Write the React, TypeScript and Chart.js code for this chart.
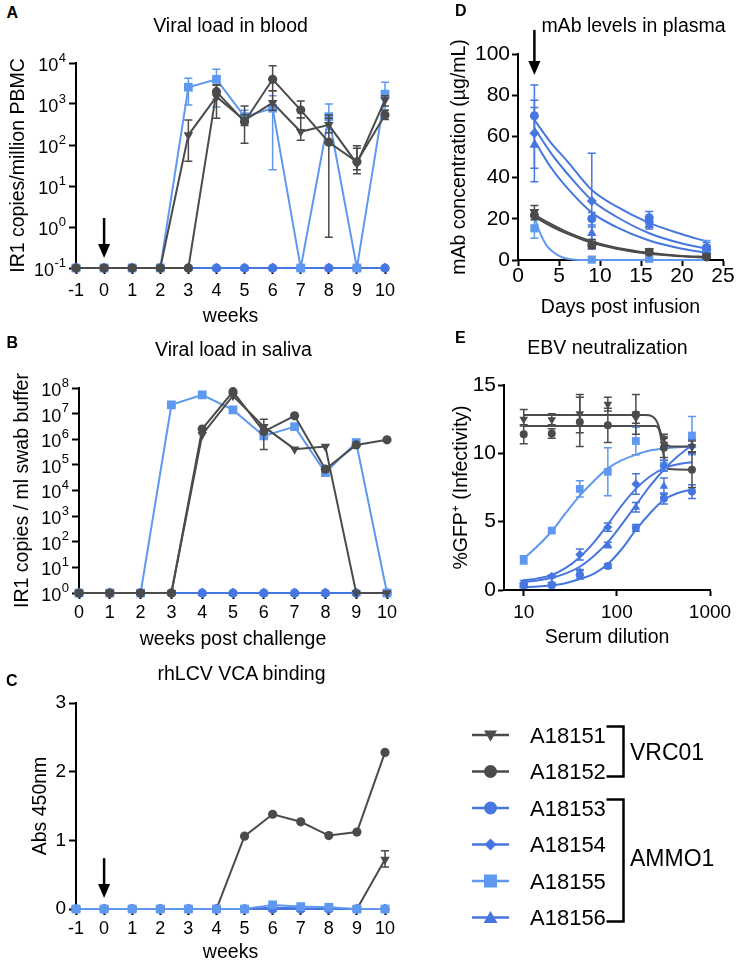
import React, { useEffect, useRef } from 'react';
import { Chart, registerables } from 'chart.js';

Chart.register(...registerables);

const FONT = '"Liberation Sans", Arial, Helvetica, sans-serif';
const DARK = '#4b4b4b';
const BLUE = '#4676df';
const LIGHT_BLUE = '#5f98ef';

// ---------- series ----------
const seriesNames = ['A18151', 'A18152', 'A18153', 'A18154', 'A18155', 'A18156'];
const groupNames = ['VRC01', 'AMMO1'];

// ---------- Panel A: viral load in blood ----------
const bloodWeeks = [-1, 0, 1, 2, 3, 4, 5, 6, 7, 8, 9, 10];
const blood51 = [0.1, 0.1, 0.1, 0.1, 175, 1500, 400, 1070, 210, 310, 35, 1260];
const blood52 = [0.1, 0.1, 0.1, 0.1, 0.1, 2000, 370, 4000, 710, 117, 39, 540];
const blood53 = [0.1, 0.1, 0.1, 0.1, 0.1, 0.1, 0.1, 0.1, 0.1, 0.1, 0.1, 0.1];
const blood54 = [0.1, 0.1, 0.1, 0.1, 0.1, 0.1, 0.1, 0.1, 0.1, 0.1, 0.1, 0.1];
const blood55 = [0.1, 0.1, 0.1, 0.1, 2570, 4000, 490, 790, 0.1, 490, 0.1, 1740];
const blood56 = [0.1, 0.1, 0.1, 0.1, 0.1, 0.1, 0.1, 0.1, 0.1, 0.1, 0.1, 0.1];
const blood51Err = [null, null, null, null, [40, 410], [450, 2900], [300, 550], [700, 2100], [130, 465], [200, 450], [25, 83], [900, 1600]];
const blood52Err = [null, null, null, null, null, [1300, 2900], [110, 890], [2100, 8600], [465, 1180], [0.56, 540], [20, 96], [420, 700]];
const blood55Err = [null, null, null, null, [950, 4260], [850, 7000], [350, 700], [25, 1600], null, [240, 1000], null, [700, 3400]];
const bloodTickValues = [0.1, 1, 10, 100, 1000, 10000];
const bloodTickExponents = ['-1', '0', '1', '2', '3', '4'];
const bloodArrow = { x: 0, top: 1.66, tip: 0.175 };

// ---------- Panel B: viral load in saliva ----------
const salivaWeeks = [0, 1, 2, 3, 4, 5, 6, 7, 8, 9, 10];
const saliva51 = [1, 1, 1, 1, 1.5e6, 5e7, 3.1e6, 4.1e5, 5.2e5, 1, 1];
const saliva52 = [1, 1, 1, 1, 2.5e6, 7.2e7, 2e6, 8.2e6, 6.8e4, 6e5, 9.5e5];
const saliva53 = [1, 1, 1, 1, 1, 1, 1, 1, 1, 1, 1];
const saliva54 = [1, 1, 1, 1, 1, 1, 1, 1, 1, 1, 1];
const saliva55 = [1, 1, 1, 2.2e7, 5.4e7, 1.4e7, 1.35e6, 3.1e6, 5e4, 7.4e5, 1];
const saliva56 = [1, 1, 1, 1, 1, 1, 1, 1, 1, 1, 1];
const saliva52Err = [null, null, null, null, null, null, [4e5, 6e6], null, null, null, null];
const salivaTickValues = [1, 10, 100, 1e3, 1e4, 1e5, 1e6, 1e7, 1e8];
const salivaTickExponents = ['0', '1', '2', '3', '4', '5', '6', '7', '8'];

// ---------- Panel C: rhLCV VCA binding ----------
const vcaWeeks = [-1, 0, 1, 2, 3, 4, 5, 6, 7, 8, 9, 10];
const vca51 = [0, 0, 0, 0, 0, 0, 0, 0, 0, 0, 0, 0.72];
const vca52 = [0, 0, 0, 0, 0, 0, 1.06, 1.38, 1.27, 1.07, 1.12, 2.28];
const vca53 = [0, 0, 0, 0, 0, 0, 0, 0, 0, 0, 0, 0];
const vca54 = [0, 0, 0, 0, 0, 0, 0, 0.02, 0.01, 0, 0, 0];
const vca55 = [0, 0, 0, 0, 0, 0, 0, 0.06, 0.035, 0.025, 0, 0];
const vca56 = [0, 0, 0, 0, 0, 0, 0, 0, 0, 0, 0, 0];
const vca51Err = [null, null, null, null, null, null, null, null, null, null, null, [0.61, 0.85]];
const vcaArrow = { x: 0, top: 0.74, tip: 0.16 };

// ---------- Panel D: mAb levels in plasma ----------
const plasmaDays = [2, 9, 16, 23];
const plasma51 = [23.4, 8, 4.2, 2];
const plasma52 = [21.8, 7.2, 3.8, 1.5];
const plasma53 = [70, 20, 20.5, 6];
const plasma54 = [61.5, 28.6, 18.5, 5];
const plasma55 = [15.4, 0.2, 0.6, 5];
const plasma56 = [56, 13, 17, 3.5];
const plasma51Err = [[21, 26.5], [6, 10], [3, 5.5], [1, 3]];
const plasma52Err = [[19.5, 24], [5.5, 9], [3, 4.6], [1, 2]];
const plasma53Err = [[55, 85], [17, 23], [17.5, 23.5], [3.5, 8.5]];
const plasma54Err = [[44.5, 77.5], [5.5, 51.8], [16, 21], [3, 7]];
const plasma55Err = [[10.5, 21], null, null, [3, 9.5]];
const plasma56Err = [[38, 74], [10, 16], [15, 19], [2, 5]];
const plasmaFitDays = [2, 4, 6, 9, 12, 16, 20, 23];
const plasmaFit51 = [22, 17.5, 13.5, 9, 6, 3.5, 2, 1.5];
const plasmaFit52 = [21, 16.5, 12.8, 8.3, 5.5, 3, 1.8, 1.2];
const plasmaFit53 = [68, 57, 48, 34, 26, 18, 12.5, 9];
const plasmaFit54 = [64, 52, 42, 29, 21, 13, 8, 5.5];
const plasmaFit56 = [58, 45, 35, 23, 16, 9.5, 5.5, 3.5];
const plasmaFit55Days = [2, 2.5, 3, 3.5, 4, 5, 6, 7, 9, 16, 23];
const plasmaFit55 = [21, 15, 10.5, 7, 4.8, 2, 0.6, 0.15, 0, 0, 0];
const plasmaArrow = { x: 2, top: 111.7, tip: 89.8 };

// ---------- Panel E: EBV neutralization ----------
const dilutions = [10, 20, 40, 80, 160, 320, 640];
const gfp51 = [12.5, 12.45, 12.9, 13.6, 12.6, 11.1, 10.5];
const gfp52 = [11.4, 11.45, 12.3, 12.05, 12.85, 10.4, 8.8];
const gfp53 = [0.35, 0.35, 1.1, 1.75, 4.55, 6.7, 7.2];
const gfp54 = [0.5, 1.0, 2.6, 4.6, 7.75, 9.1, 10.5];
const gfp55 = [2.2, 4.35, 7.4, 8.65, 10.9, 9.1, 11.3];
const gfp56 = [0.3, 0.45, 1.3, 3.3, 6.05, 7.6, 10.6];
const gfp51Err = [[12.0, 13.2], [12.1, 12.9], [11.5, 14.3], [13.1, 14.1], [12.2, 13.0], [10.8, 11.4], [10.1, 10.9]];
const gfp52Err = [[10.7, 12.1], [11.1, 11.8], [10.5, 14.1], [10.8, 13.3], [11.4, 14.3], [9.7, 11.1], [7.5, 10.1]];
const gfp53Err = [[0.2, 0.5], [0.25, 0.45], [0.8, 1.4], [1.6, 1.9], [4.3, 4.8], [6.3, 7.1], [6.7, 7.7]];
const gfp54Err = [[0.3, 0.7], [0.9, 1.1], [2.2, 3.0], [4.3, 4.9], [7.0, 8.5], [8.7, 9.5], [10.0, 11.0]];
const gfp55Err = [[1.9, 2.5], [4.2, 4.5], [6.8, 8.0], [6.9, 10.4], [9.9, 11.9], [8.7, 9.5], [9.9, 12.7]];
const gfp56Err = [[0.2, 0.4], [0.35, 0.55], [1.1, 1.5], [3.1, 3.5], [5.7, 6.4], [7.0, 8.2], [10.1, 11.1]];
const gfpFitDilutions = [10, 14, 20, 28, 40, 57, 80, 113, 160, 226, 320, 453, 640];
const gfpFit53 = [0.2, 0.25, 0.35, 0.5, 0.8, 1.2, 1.9, 3.0, 4.4, 5.6, 6.6, 7.1, 7.35];
const gfpFit54 = [0.7, 0.85, 1.1, 1.6, 2.4, 3.5, 4.8, 6.2, 7.4, 8.3, 8.9, 9.2, 9.35];
const gfpFit55 = [2.3, 3.2, 4.3, 5.6, 6.9, 8.0, 8.9, 9.5, 9.9, 10.2, 10.35, 10.45, 10.5];
const gfpFit56 = [0.6, 0.7, 0.9, 1.2, 1.7, 2.5, 3.5, 4.8, 6.2, 7.6, 8.8, 9.8, 10.6];
const gfpFit51Dilutions = [10, 200, 240, 270, 300, 330, 380, 640];
const gfpFit51 = [12.8, 12.8, 12.7, 12.3, 11.4, 10.8, 10.5, 10.5];
const gfpFit52Dilutions = [10, 260, 285, 300, 315, 335, 360, 640];
const gfpFit52 = [12.0, 12.0, 11.7, 11.0, 10.0, 9.1, 8.85, 8.8];
const dilutionTickValues = [10, 100, 1000];
const dilutionTickLabels = ['10', '100', '1000'];

// ---------- styling helpers ----------
const SERIES_COLORS = [DARK, DARK, BLUE, BLUE, LIGHT_BLUE, BLUE];
const SERIES_SHAPES = ['triangle', 'circle', 'circle', 'rectRot', 'rect', 'triangle'];
const SERIES_ROT = [180, 0, 0, 0, 0, 0];

const errorBarPlugin = {
  id: 'errorBars',
  beforeDatasetDraw(chart: any, args: any) {
    const ds = chart.data.datasets[args.index];
    const errs = ds.errorBars;
    if (!errs) return;
    const meta = args.meta;
    const ys = chart.scales[meta.yAxisID];
    const ctx = chart.ctx;
    ctx.save();
    ctx.strokeStyle = ds.borderColor;
    ctx.lineWidth = 1.5;
    meta.data.forEach((el: any, i: number) => {
      const e = errs[i];
      if (!e) return;
      const x = el.x;
      const y1 = ys.getPixelForValue(e[0]);
      const y2 = ys.getPixelForValue(e[1]);
      ctx.beginPath();
      ctx.moveTo(x, y1); ctx.lineTo(x, y2);
      ctx.moveTo(x - 4, y1); ctx.lineTo(x + 4, y1);
      ctx.moveTo(x - 4, y2); ctx.lineTo(x + 4, y2);
      ctx.stroke();
    });
    ctx.restore();
  },
};

const arrowPlugin = {
  id: 'arrowMark',
  afterDatasetsDraw(chart: any, _a: any, opts: any) {
    if (!opts || opts.x === undefined) return;
    const ctx = chart.ctx;
    const x = chart.scales.x.getPixelForValue(opts.x);
    const yt = chart.scales.y.getPixelForValue(opts.top);
    const yb = chart.scales.y.getPixelForValue(opts.tip);
    const headH = 14, headW = 12;
    ctx.save();
    ctx.strokeStyle = '#000';
    ctx.fillStyle = '#000';
    ctx.lineWidth = 2.5;
    ctx.beginPath();
    ctx.moveTo(x, yt);
    ctx.lineTo(x, yb - headH + 1);
    ctx.stroke();
    ctx.beginPath();
    ctx.moveTo(x - headW / 2, yb - headH);
    ctx.lineTo(x + headW / 2, yb - headH);
    ctx.lineTo(x, yb);
    ctx.closePath();
    ctx.fill();
    ctx.restore();
  },
};

// Draws "10" with a raised exponent for log-axis tick labels, at the library's tick positions.
const powerLabelPlugin = {
  id: 'powerLabels',
  afterDraw(chart: any, _a: any, opts: any) {
    if (!opts || !opts.values) return;
    const s = chart.scales.y;
    const ctx = chart.ctx;
    const right = s.right - opts.tickLen - opts.pad;
    ctx.save();
    ctx.fillStyle = '#000';
    ctx.textBaseline = 'middle';
    ctx.textAlign = 'right';
    opts.values.forEach((v: number, i: number) => {
      const y = s.getPixelForValue(v);
      const exp = opts.exponents[i];
      ctx.font = `${opts.expSize}px ${FONT}`;
      const w = ctx.measureText(exp).width;
      ctx.fillText(exp, right, y - opts.expShift);
      ctx.font = `${opts.baseSize}px ${FONT}`;
      ctx.fillText('10', right - w - 0.5, y + opts.baseShift);
    });
    ctx.restore();
  },
};

function seriesDataset(i: number, xs: number[], ys: number[], errs: any, radii: number[], order: number, showLine = true) {
  const c = SERIES_COLORS[i];
  return {
    label: seriesNames[i],
    data: xs.map((x, k) => ({ x, y: ys[k] })),
    borderColor: c,
    backgroundColor: c,
    pointBackgroundColor: c,
    pointBorderColor: c,
    pointBorderWidth: 0,
    pointStyle: SERIES_SHAPES[i],
    pointRotation: SERIES_ROT[i],
    pointRadius: radii[i],
    pointHoverRadius: radii[i],
    borderWidth: 2,
    showLine,
    tension: 0,
    clip: false,
    order,
    errorBars: errs,
  };
}

function curveDataset(i: number, xs: number[], ys: number[], order: number) {
  return {
    label: seriesNames[i] + ' fit',
    data: xs.map((x, k) => ({ x, y: ys[k] })),
    borderColor: SERIES_COLORS[i],
    backgroundColor: SERIES_COLORS[i],
    borderWidth: 2,
    pointRadius: 0,
    pointHoverRadius: 0,
    cubicInterpolationMode: 'monotone',
    clip: false,
    order,
  };
}

function axis(o: any) {
  const horizontal = o.horizontal;
  return {
    type: o.type,
    min: o.min,
    max: o.max,
    position: horizontal ? 'bottom' : 'left',
    afterBuildTicks: o.tickValues ? (s: any) => { s.ticks = o.tickValues.map((v: number) => ({ value: v })); } : undefined,
    afterFit: (s: any) => {
      if (horizontal) s.height = o.size; else s.width = o.size;
      s.paddingTop = 0; s.paddingBottom = 0; s.paddingLeft = 0; s.paddingRight = 0;
    },
    border: { display: true, color: '#000', width: 2 },
    grid: { display: true, drawOnChartArea: false, drawTicks: true, tickLength: o.tickLen, tickWidth: 2, tickColor: '#000', color: '#000' },
    ticks: {
      display: !o.hideLabels,
      stepSize: o.step,
      color: '#000',
      font: { family: FONT, size: o.fontSize, lineHeight: 1 },
      padding: o.tickPad,
      autoSkip: false,
      maxRotation: 0,
      minRotation: 0,
      callback: o.tickLabels ? (_v: any, i: number) => o.tickLabels[i] : (v: any) => String(v),
    },
    title: {
      display: true,
      text: o.title,
      color: '#000',
      font: { family: FONT, size: 19.5, lineHeight: 1 },
      padding: horizontal ? { top: 0, bottom: o.titlePad } : { top: o.titlePad, bottom: 0 },
    },
  };
}

function baseOptions(p: any) {
  return {
    responsive: false,
    maintainAspectRatio: false,
    animation: false,
    events: [],
    layout: { padding: { left: 0, top: p.top, right: p.right, bottom: 0 }, autoPadding: false },
    plugins: {
      legend: { display: false },
      tooltip: { enabled: false },
      title: { display: false },
      arrowMark: p.arrow || {},
      powerLabels: p.power || {},
    },
    scales: { x: p.x, y: p.y },
  };
}

const PLUGINS = [errorBarPlugin, arrowPlugin, powerLabelPlugin];

function configA() {
  const radii = [5.5, 4.6, 4.6, 5, 6.2, 5.5];
  const ys = [blood51, blood52, blood53, blood54, blood55, blood56];
  const errs = [blood51Err, blood52Err, null, null, blood55Err, null];
  const orders = [0, 1, 3, 4, 2, 5];
  return {
    type: 'line',
    data: { datasets: ys.map((y, i) => seriesDataset(i, bloodWeeks, y, errs[i], radii, orders[i])) },
    options: baseOptions({
      top: 23, right: 15, arrow: bloodArrow,
      power: { values: bloodTickValues, exponents: bloodTickExponents, baseSize: 18, expSize: 13, expShift: 5, baseShift: 3, tickLen: 7, pad: 3 },
      x: axis({ horizontal: true, type: 'linear', min: -1, max: 10, step: 1, fontSize: 18, tickLen: 6, tickPad: 8, title: 'weeks', titlePad: 3.25, size: 62 }),
      y: axis({ horizontal: false, type: 'logarithmic', min: 0.1, max: 10000, tickValues: bloodTickValues, hideLabels: true, fontSize: 18, tickLen: 7, tickPad: 3, title: 'IR1 copies/million PBMC', titlePad: 8.75, size: 76 }),
    }),
    plugins: PLUGINS,
  };
}

function configB() {
  const radii = [5.5, 4.6, 4.6, 5, 6.2, 5.5];
  const ys = [saliva51, saliva52, saliva53, saliva54, saliva55, saliva56];
  const errs = [null, saliva52Err, null, null, null, null];
  const orders = [0, 1, 3, 4, 2, 5];
  return {
    type: 'line',
    data: { datasets: ys.map((y, i) => seriesDataset(i, salivaWeeks, y, errs[i], radii, orders[i])) },
    options: baseOptions({
      top: 23, right: 13,
      power: { values: salivaTickValues, exponents: salivaTickExponents, baseSize: 18, expSize: 13, expShift: 5, baseShift: 3, tickLen: 7, pad: 3 },
      x: axis({ horizontal: true, type: 'linear', min: 0, max: 10, step: 1, fontSize: 18, tickLen: 6, tickPad: 5, title: 'weeks post challenge', titlePad: 5.25, size: 62 }),
      y: axis({ horizontal: false, type: 'logarithmic', min: 1, max: 1e8, tickValues: salivaTickValues, hideLabels: true, fontSize: 18, tickLen: 7, tickPad: 3, title: 'IR1 copies / ml swab buffer', titlePad: 12.75, size: 79 }),
    }),
    plugins: PLUGINS,
  };
}

function configC() {
  const radii = [5.5, 4.6, 4.6, 5, 6.2, 5.5];
  const ys = [vca51, vca52, vca53, vca54, vca55, vca56];
  const errs = [vca51Err, null, null, null, null, null];
  const orders = [4, 5, 1, 2, 0, 3];
  return {
    type: 'line',
    data: { datasets: ys.map((y, i) => seriesDataset(i, vcaWeeks, y, errs[i], radii, orders[i])) },
    options: baseOptions({
      top: 23, right: 15, arrow: vcaArrow,
      x: axis({ horizontal: true, type: 'linear', min: -1, max: 10, step: 1, fontSize: 18, tickLen: 6, tickPad: 5, title: 'weeks', titlePad: 3.25, size: 57 }),
      y: axis({ horizontal: false, type: 'linear', min: 0, max: 3, step: 1, fontSize: 19, tickLen: 7, tickPad: 3, title: 'Abs 450nm', titlePad: 31.25, size: 76 }),
    }),
    plugins: PLUGINS,
  };
}

function configD() {
  const radii = [5.5, 4.5, 4.5, 5, 5.8, 5.5];
  const ys = [plasma51, plasma52, plasma53, plasma54, plasma55, plasma56];
  const errs = [plasma51Err, plasma52Err, plasma53Err, plasma54Err, plasma55Err, plasma56Err];
  const points = ys.map((y, i) => seriesDataset(i, plasmaDays, y, errs[i], radii, i, false));
  const curves = [
    curveDataset(0, plasmaFitDays, plasmaFit51, 10),
    curveDataset(1, plasmaFitDays, plasmaFit52, 11),
    curveDataset(2, plasmaFitDays, plasmaFit53, 12),
    curveDataset(3, plasmaFitDays, plasmaFit54, 13),
    curveDataset(4, plasmaFit55Days, plasmaFit55, 14),
    curveDataset(5, plasmaFitDays, plasmaFit56, 15),
  ];
  return {
    type: 'line',
    data: { datasets: [...points, ...curves] },
    options: baseOptions({
      top: 54, right: 14, arrow: plasmaArrow,
      x: axis({ horizontal: true, type: 'linear', min: 0, max: 25, step: 5, fontSize: 21, tickLen: 6, tickPad: 0, title: 'Days post infusion', titlePad: 2.25, size: 60 }),
      y: axis({ horizontal: false, type: 'linear', min: 0, max: 100, step: 20, fontSize: 21, tickLen: 6, tickPad: 2, title: 'mAb concentration (µg/mL)', titlePad: 30.25, size: 98 }),
    }),
    plugins: PLUGINS,
  };
}

function configE() {
  const radii = [5, 4, 4, 4.5, 5.5, 5];
  const ys = [gfp51, gfp52, gfp53, gfp54, gfp55, gfp56];
  const errs = [gfp51Err, gfp52Err, gfp53Err, gfp54Err, gfp55Err, gfp56Err];
  const points = ys.map((y, i) => seriesDataset(i, dilutions, y, errs[i], radii, i, false));
  const curves = [
    curveDataset(0, gfpFit51Dilutions, gfpFit51, 10),
    curveDataset(1, gfpFit52Dilutions, gfpFit52, 11),
    curveDataset(2, gfpFitDilutions, gfpFit53, 12),
    curveDataset(3, gfpFitDilutions, gfpFit54, 13),
    curveDataset(4, gfpFitDilutions, gfpFit55, 14),
    curveDataset(5, gfpFitDilutions, gfpFit56, 15),
  ];
  return {
    type: 'line',
    data: { datasets: [...points, ...curves] },
    options: baseOptions({
      top: 55, right: 27,
      x: axis({ horizontal: true, type: 'logarithmic', min: 6.14, max: 1000, tickValues: dilutionTickValues, tickLabels: dilutionTickLabels, fontSize: 19, tickLen: 6, tickPad: 7.5, title: 'Serum dilution', titlePad: 2.25, size: 60 }),
      y: axis({ horizontal: false, type: 'linear', min: 0, max: 15, step: 5, fontSize: 21, tickLen: 6, tickPad: 2, title: '%GFP⁺ (Infectivity)', titlePad: 32, size: 84 }),
    }),
    plugins: PLUGINS,
  };
}

function ChartBox({ left, top, width, height, make }: { left: number; top: number; width: number; height: number; make: () => any }) {
  const ref = useRef<HTMLCanvasElement>(null);
  useEffect(() => {
    const chart = new Chart(ref.current as HTMLCanvasElement, make());
    return () => chart.destroy();
  }, []);
  return <canvas ref={ref} width={width} height={height} style={{ position: 'absolute', left, top, width, height }} />;
}

function Text({ x, y, text, size, bold, anchor }: { x: number; y: number; text: string; size: number; bold?: boolean; anchor?: 'center' | 'left' }) {
  const top = y - 0.4885 * size;
  const common: any = {
    position: 'absolute', top, fontFamily: FONT, fontSize: size, lineHeight: `${size}px`,
    fontWeight: bold ? 700 : 400, color: '#000', whiteSpace: 'nowrap',
  };
  if (anchor === 'left') return <div style={{ ...common, left: x }}>{text}</div>;
  return <div style={{ ...common, left: x - 200, width: 400, textAlign: 'center' }}>{text}</div>;
}

function LegendMarker({ i, cx, cy }: { i: number; cx: number; cy: number }) {
  const c = SERIES_COLORS[i];
  switch (i) {
    case 0: return <polygon points={`${cx - 6.5},${cy - 4.5} ${cx + 6.5},${cy - 4.5} ${cx},${cy + 6.5}`} fill={c} />;
    case 1:
    case 2: return <circle cx={cx} cy={cy} r={6.5} fill={c} />;
    case 3: return <polygon points={`${cx},${cy - 6} ${cx + 6},${cy} ${cx},${cy + 6} ${cx - 6},${cy}`} fill={c} />;
    case 4: return <rect x={cx - 6.5} y={cy - 6.5} width={13} height={13} fill={c} />;
    default: return <polygon points={`${cx - 7},${cy + 5.5} ${cx + 7},${cy + 5.5} ${cx},${cy - 6.5}`} fill={c} />;
  }
}

function Legend() {
  const rows = [735, 771.5, 808, 844.5, 881, 917.5];
  return (
    <svg width={737} height={966} style={{ position: 'absolute', left: 0, top: 0, pointerEvents: 'none' }}>
      {seriesNames.map((name, i) => (
        <g key={name}>
          <line x1={472} x2={509} y1={rows[i]} y2={rows[i]} stroke={SERIES_COLORS[i]} strokeWidth={2.5} />
          <LegendMarker i={i} cx={490.5} cy={rows[i]} />
          <text x={530} y={rows[i] + 7.9} fontFamily={FONT} fontSize={22} fill="#000">{name}</text>
        </g>
      ))}
      <path d="M606.5 726.5 H623.5 V776.5 H606.5" fill="none" stroke="#000" strokeWidth={2.5} />
      <path d="M606.5 799.5 H623.5 V921.5 H606.5" fill="none" stroke="#000" strokeWidth={2.5} />
      <text x={630} y={752 + 8.2} fontFamily={FONT} fontSize={23} fill="#000">{groupNames[0]}</text>
      <text x={630} y={858 + 8.2} fontFamily={FONT} fontSize={23} fill="#000">{groupNames[1]}</text>
    </svg>
  );
}

export default function App() {
  return (
    <div style={{ position: 'absolute', left: 0, top: 0, width: 737, height: 966, background: '#fff', overflow: 'hidden' }}>
      <ChartBox left={0} top={40} width={400} height={290} make={configA} />
      <ChartBox left={0} top={365} width={400} height={290} make={configB} />
      <ChartBox left={0} top={680} width={400} height={286} make={configC} />
      <ChartBox left={420} top={0} width={317} height={320} make={configD} />
      <ChartBox left={420} top={330} width={317} height={320} make={configE} />

      <Text x={6.5} y={12.5} text="A" size={16} bold anchor="left" />
      <Text x={6.5} y={342.5} text="B" size={16} bold anchor="left" />
      <Text x={6} y={681} text="C" size={16} bold anchor="left" />
      <Text x={455} y={11} text="D" size={16} bold anchor="left" />
      <Text x={455} y={338} text="E" size={16} bold anchor="left" />

      <Text x={230.5} y={25.5} text="Viral load in blood" size={19.5} />
      <Text x={233.5} y={350} text="Viral load in saliva" size={19.5} />
      <Text x={241.5} y={674} text="rhLCV VCA binding" size={19.5} />
      <Text x={633.5} y={25.5} text="mAb levels in plasma" size={19.5} />
      <Text x={607.5} y={348} text="EBV neutralization" size={19.5} />

      <Legend />
    </div>
  );
}
